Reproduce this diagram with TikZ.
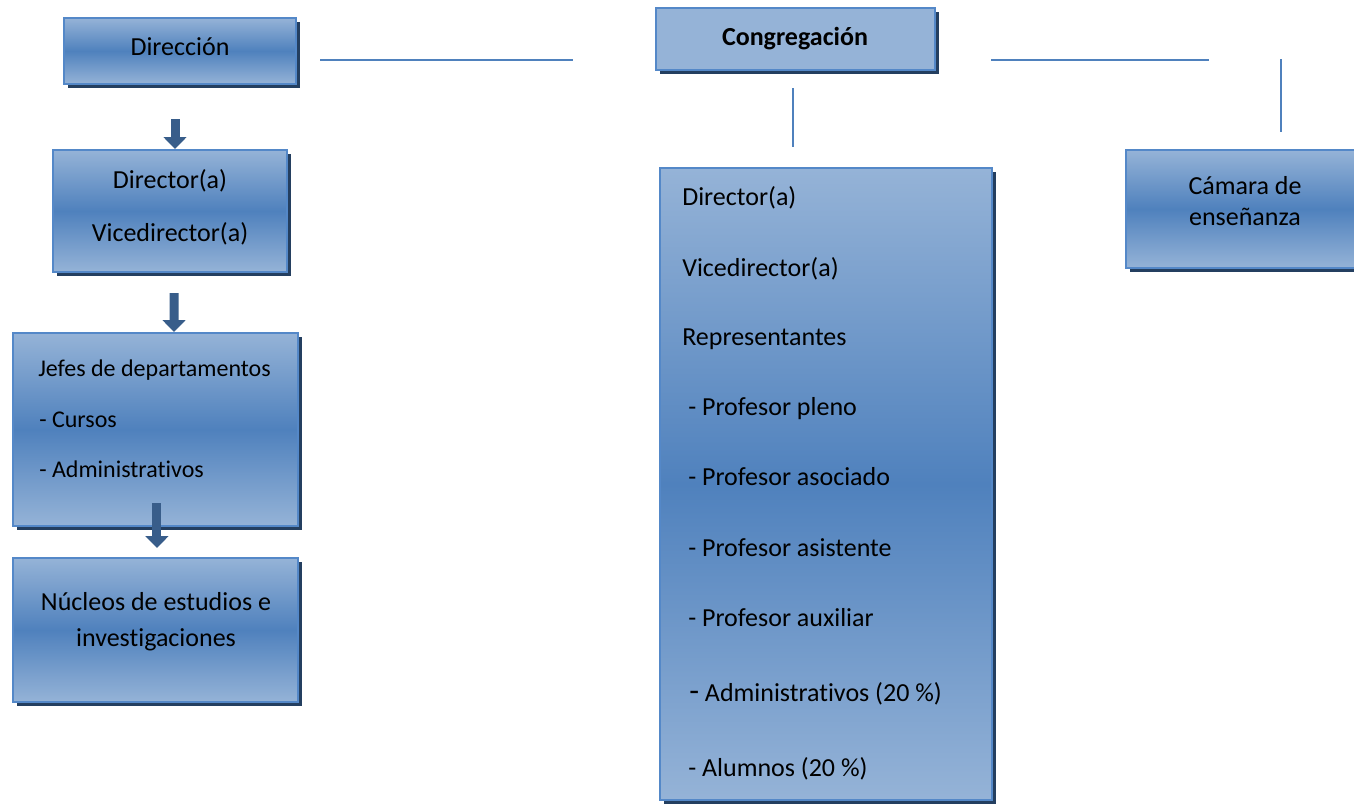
\documentclass[tikz,border=0pt]{standalone}
\usepackage{fontspec}
\setmainfont{Carlito}[Ligatures=NoCommon]
\usetikzlibrary{shadows,fit,arrows.meta}
\definecolor{lightc}{RGB}{149,179,215}
\definecolor{darkc}{RGB}{79,129,189}
\definecolor{bordc}{RGB}{84,136,200}
\definecolor{shadc}{RGB}{36,63,96}
\definecolor{arrc}{RGB}{56,93,138}
\definecolor{linec}{RGB}{79,129,189}
\begin{document}
\begin{tikzpicture}[x=0.75pt,y=-0.75pt,
  box/.style={draw=bordc, line width=1.5pt, top color=lightc, bottom color=lightc, middle color=darkc,
    inner sep=0pt, drop shadow={shadow xshift=3.2pt, shadow yshift=-3.2pt, fill=shadc, opacity=1}},
  flatbox/.style={box, top color=lightc, bottom color=lightc, middle color=lightc},
  big/.style={font=\fontsize{19.5pt}{23pt}\selectfont, inner sep=0pt},
  small/.style={font=\fontsize{18pt}{21pt}\selectfont, inner sep=0pt},
  blockarr/.style={draw=arrc, line width=6.75pt, -{Triangle[width=17pt,length=9pt]}},
  conn/.style={draw=linec, line width=1.1pt}]
\useasboundingbox (0,0) rectangle (1354,804);

% boxes
\node[box, fit={(64,18) (296,84)}] (dir) {};
\node[box, fit={(53,150) (287,272)}] (dd) {};
\node[box, fit={(13,333) (298,526)}] (jef) {};
\node[box, fit={(13,558) (298,702)}] (nuc) {};
\node[flatbox, fit={(656,8) (935,70)}] (cong) {};
\node[box, fit={(660,168) (992,800)}] (memb) {};
\node[box, fit={(1126,150) (1380,268)}] (cam) {};

% texts
\node[big, anchor=base] (tdir) at (180,55) {Dirección};
\node[big, anchor=base] (tdd1) at (170,188) {Director(a)};
\node[big, anchor=base] (tdd2) at (170,241) {Vicedirector(a)};
\node[small, anchor=base west] (tj1) at (38,376) {Jefes de departamentos};
\node[small, anchor=base west] (tj2) at (39,427) {- Cursos};
\node[small, anchor=base west] (tj3) at (39,477) {- Administrativos};
\node[big, anchor=base] (tn1) at (156,610) {Núcleos de estudios e};
\node[big, anchor=base] (tn2) at (156,646) {investigaciones};
\node[big, anchor=base, font=\fontsize{19.5pt}{23pt}\selectfont\bfseries] (tcong) at (795,45) {Congregación};
\node[big, anchor=base west] (tm1) at (682,205) {Director(a)};
\node[big, anchor=base west] (tm2) at (682,276) {Vicedirector(a)};
\node[big, anchor=base west] (tm3) at (682,345) {Representantes};
\node[big, anchor=base west] (tm4) at (688,415) {- Profesor pleno};
\node[big, anchor=base west] (tm5) at (688,485) {- Profesor asociado};
\node[big, anchor=base west] (tm6) at (688,556) {- Profesor asistente};
\node[big, anchor=base west] (tm7) at (688,626) {- Profesor auxiliar};
\node[big, anchor=base west] (tm8) at (689,701) {{\fontsize{24pt}{24pt}\selectfont -} Administrativos (20~\%)};
\node[big, anchor=base west] (tm9) at (688,776) {- Alumnos (20~\%)};
\node[big, anchor=base] (tc1) at (1245,194) {Cámara de};
\node[big, anchor=base] (tc2) at (1245,225) {enseñanza};

% block arrows
\draw[blockarr, shorten <=25.5pt] ([xshift=-3.75pt]dir.south) -- ([xshift=3.75pt]dd.north);
\draw[blockarr, shorten <=15pt] ([xshift=3pt]dd.south) -- ([xshift=13.9pt]jef.north);
\draw[blockarr, shorten <=-18pt, shorten >=6.75pt] ([xshift=1.1pt]jef.south) -- ([xshift=1.1pt]nuc.north);

% plain connector lines
\coordinate (h1a) at (320,60);
\coordinate (h1b) at (573,60);
\coordinate (v1a) at (793,88);
\coordinate (v1b) at (793,147);
\coordinate (h2a) at (991,60);
\coordinate (h2b) at (1209,60);
\coordinate (v2a) at (1281,59);
\coordinate (v2b) at (1281,132);
\draw[conn] (h1a) -- (h1b);
\draw[conn] (v1a) -- (v1b);
\draw[conn] (h2a) -- (h2b);
\draw[conn] (v2a) -- (v2b);
\end{tikzpicture}
\end{document}
